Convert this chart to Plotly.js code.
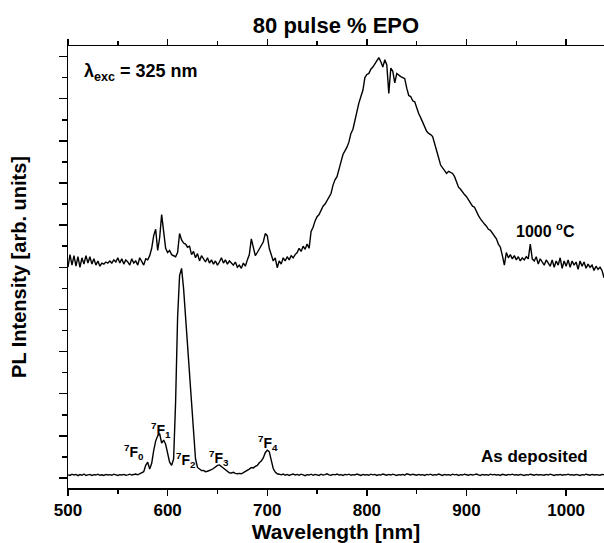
<!DOCTYPE html>
<html>
<head>
<meta charset="utf-8">
<script src="https://cdn.plot.ly/plotly-3.0.1.min.js"></script>
<style>html,body{margin:0;padding:0;background:#fff;}#chart{width:604px;height:543px;}</style>
</head>
<body>
<div id="chart"></div>
<script>
// Wavelength grid: 500 nm to 1038 nm, step 2 nm
const wlStart = 500;
const wlStep = 2;

// PL intensity (arb. units, offset) for the 1000 °C annealed sample
const annealed1000 = [
 10.0,10.6,10.1,10.55,10.05,10.5,10.0,10.45,10.15,10.55,
 10.2,10.5,10.15,10.4,10.1,10.3,10.05,10.2,10.15,10.25,
 10.2,10.3,10.2,10.35,10.25,10.45,10.2,10.4,10.15,10.35,
 10.25,10.1,10.4,10.2,10.3,10.1,10.45,10.25,10.1,10.4,
 10.35,10.55,10.9,11.5,11.8,10.8,11.4,12.5,11.6,10.9,
 10.7,10.8,10.6,10.55,10.5,10.7,11.6,11.3,11.15,11.1,
 10.95,11.0,10.6,10.75,10.45,10.65,10.3,10.55,10.4,10.25,
 10.45,10.2,10.35,10.15,10.3,10.1,10.25,10.45,10.2,10.35,
 10.15,10.3,10.2,10.1,10.25,10.0,10.1,9.95,10.2,10.05,
 10.35,10.6,11.35,11.0,10.55,10.7,10.85,11.0,11.2,11.6,
 11.5,10.9,10.6,10.3,10.45,9.98,10.3,10.15,10.45,10.3,
 10.5,10.35,10.55,10.45,10.6,10.7,10.9,10.75,11.0,10.85,
 11.1,10.9,11.7,11.9,12.2,12.4,12.5,12.75,12.9,13.0,
 13.15,13.3,13.5,13.9,14.15,14.3,14.6,15.0,15.35,15.5,
 15.7,15.95,16.35,16.55,17.0,17.45,17.8,18.1,18.4,19.0,
 19.15,19.2,19.4,19.5,19.65,19.8,19.95,19.75,19.5,19.85,
 19.6,18.25,19.45,19.3,18.75,19.2,19.1,19.05,19.0,18.95,
 18.5,18.15,18.1,17.9,17.85,17.55,17.3,17.1,16.85,16.6,
 16.45,16.35,16.3,16.2,15.9,15.6,15.2,14.85,14.7,14.6,
 14.45,14.55,14.5,14.45,14.3,14.0,13.8,13.7,13.55,13.45,
 13.35,13.2,13.05,12.9,12.85,12.6,12.45,12.3,12.15,12.05,
 11.95,11.8,11.75,11.6,11.5,11.35,11.1,10.95,10.55,10.1,
 10.7,10.45,10.6,10.4,10.55,10.35,10.5,10.3,10.45,10.35,
 10.5,10.4,11.1,10.4,10.3,10.5,10.15,10.4,10.25,10.1,
 10.35,10.2,10.05,10.35,10.0,10.3,10.1,10.45,9.95,10.3,
 10.05,10.35,10.0,10.3,10.1,10.25,9.9,10.3,10.05,10.25,
 9.95,10.15,10.0,10.1,9.85,10.05,9.9,10.0,9.85,9.5
];

// PL intensity (arb. units) for the as-deposited sample
const asDeposited = [
 0.15,0.12,0.18,0.14,0.17,0.11,0.16,0.13,0.19,0.12,
 0.15,0.17,0.12,0.16,0.14,0.18,0.13,0.15,0.12,0.17,
 0.14,0.16,0.13,0.18,0.15,0.12,0.16,0.14,0.17,0.13,
 0.15,0.18,0.14,0.16,0.19,0.15,0.2,0.25,0.3,0.6,
 0.75,0.42,0.7,1.3,1.75,2.0,2.1,1.65,1.8,1.6,
 1.1,0.75,0.6,0.9,3.6,7.6,9.6,9.95,9.0,7.6,
 6.2,4.9,3.5,2.1,0.9,0.5,0.4,0.35,0.36,0.3,
 0.32,0.35,0.4,0.45,0.55,0.6,0.62,0.55,0.45,0.38,
 0.3,0.25,0.24,0.27,0.22,0.2,0.22,0.2,0.25,0.3,
 0.35,0.42,0.5,0.48,0.55,0.6,0.72,0.8,0.95,1.2,
 1.32,1.25,0.85,0.45,0.28,0.2,0.18,0.15,0.19,0.13,
 0.17,0.12,0.16,0.19,0.14,0.17,0.13,0.18,0.15,0.11,
 0.16,0.14,0.18,0.13,0.17,0.15,0.12,0.18,0.14,0.16,
 0.2,0.15,0.13,0.17,0.15,0.19,0.14,0.16,0.12,0.17,
 0.15,0.18,0.13,0.16,0.14,0.19,0.15,0.12,0.17,0.14,
 0.16,0.13,0.18,0.15,0.17,0.12,0.16,0.14,0.19,0.15,
 0.13,0.17,0.14,0.18,0.15,0.12,0.16,0.14,0.17,0.13,
 0.2,0.16,0.14,0.18,0.15,0.13,0.17,0.14,0.16,0.12,
 0.17,0.15,0.18,0.13,0.16,0.14,0.19,0.15,0.12,0.17,
 0.14,0.16,0.13,0.18,0.15,0.17,0.12,0.16,0.14,0.18,
 0.15,0.13,0.17,0.14,0.16,0.19,0.15,0.12,0.17,0.14,
 0.16,0.13,0.18,0.15,0.17,0.14,0.16,0.12,0.18,0.15,
 0.13,0.17,0.15,0.18,0.14,0.16,0.13,0.17,0.15,0.12,
 0.16,0.14,0.18,0.15,0.13,0.17,0.14,0.16,0.15,0.13,
 0.17,0.14,0.18,0.15,0.12,0.16,0.14,0.17,0.13,0.16,
 0.15,0.18,0.14,0.16,0.13,0.17,0.15,0.12,0.16,0.14,
 0.18,0.15,0.13,0.17,0.14,0.16,0.15,0.13,0.17,0.15
];

// Text labels
const titleText = "80 pulse % EPO";
const xTitle = "Wavelength [nm]";
const yTitle = "PL Intensity [arb. units]";
const excText = "λ<sub>exc</sub> = 325 nm";
const seriesLabels = ["1000 <sup>o</sup>C", "As deposited"];
const transitionLabels = ["<sup>7</sup>F<sub>0</sub>","<sup>7</sup>F<sub>1</sub>","<sup>7</sup>F<sub>2</sub>","<sup>7</sup>F<sub>3</sub>","<sup>7</sup>F<sub>4</sub>"];
const transitionX = [566, 593, 618, 652, 701];
const transitionY = [1.25, 2.3, 0.85, 0.95, 1.65];

const FONT = "Liberation Sans, Arial, sans-serif";
const lineStyle = {color: "#000", width: 1.4};

const traces = [
  {type: "scatter", mode: "lines", x0: wlStart, dx: wlStep, y: annealed1000, line: lineStyle, name: "1000 °C", hoverinfo: "x+y"},
  {type: "scatter", mode: "lines", x0: wlStart, dx: wlStep, y: asDeposited, line: lineStyle, name: "As deposited", hoverinfo: "x+y"}
];

const annotations = [
  {x: 514, y: 19.25, xref: "x", yref: "y", text: excText, showarrow: false, xanchor: "left", yanchor: "middle",
   font: {family: FONT, size: 18, color: "#000", weight: "bold"}},
  {x: 979, y: 11.75, xref: "x", yref: "y", text: seriesLabels[0], showarrow: false, xanchor: "center", yanchor: "middle",
   font: {family: FONT, size: 16, color: "#000", weight: "bold"}},
  {x: 968, y: 1.0, xref: "x", yref: "y", text: seriesLabels[1], showarrow: false, xanchor: "center", yanchor: "middle",
   font: {family: FONT, size: 17, color: "#000", weight: "bold"}}
];
for (let i = 0; i < transitionLabels.length; i++) {
  annotations.push({x: transitionX[i], y: transitionY[i], xref: "x", yref: "y", text: transitionLabels[i],
    showarrow: false, xanchor: "center", yanchor: "middle",
    font: {family: FONT, size: 14, color: "#000", weight: "bold"}});
}

const layout = {
  width: 604, height: 543,
  margin: {l: 68, r: 0, t: 46, b: 55, pad: 0},
  paper_bgcolor: "#fff", plot_bgcolor: "#fff",
  showlegend: false,
  font: {family: FONT, color: "#000"},
  title: {text: titleText, x: 0.5, xref: "paper", xanchor: "center", y: 0.954, yanchor: "middle",
          font: {family: FONT, size: 22, color: "#000", weight: "bold"}},
  xaxis: {
    range: [500, 1038], showgrid: false, zeroline: false,
    showline: true, linecolor: "#000", linewidth: 1.5, mirror: "ticks",
    ticks: "outside", ticklen: 6, tickwidth: 1.5, tickcolor: "#000",
    dtick: 100, tick0: 500,
    minor: {dtick: 50, ticks: "outside", ticklen: 4, tickwidth: 1.5, tickcolor: "#000", showgrid: false},
    tickfont: {family: FONT, size: 17, color: "#000", weight: "bold"},
    title: {text: xTitle, standoff: 9, font: {family: FONT, size: 21, color: "#000", weight: "bold"}},
    automargin: false
  },
  yaxis: {
    range: [-0.475, 20.5], showgrid: false, zeroline: false,
    showline: true, linecolor: "#000", linewidth: 1.5, mirror: false,
    ticks: "outside", ticklen: 8, tickwidth: 1.5, tickcolor: "#000",
    dtick: 2, tick0: 0, showticklabels: false,
    minor: {dtick: 1, ticks: "outside", ticklen: 5, tickwidth: 1.5, tickcolor: "#000", showgrid: false},
    title: {text: yTitle, standoff: 26, font: {family: FONT, size: 20, color: "#000", weight: "bold"}},
    automargin: false
  },
  annotations: annotations
};

Plotly.newPlot("chart", traces, layout, {staticPlot: true, displayModeBar: false});
</script>
</body>
</html>
